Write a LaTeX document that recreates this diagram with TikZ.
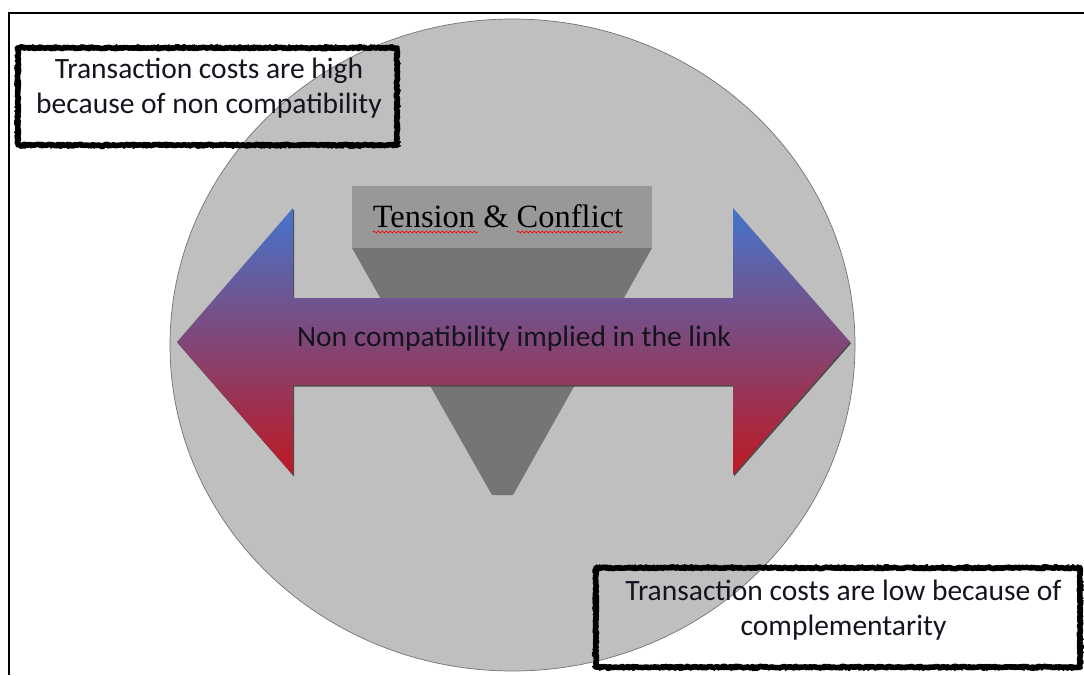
\documentclass[tikz,border=0pt]{standalone}
\usepackage{fontspec}
\setmainfont{Carlito}
\newfontfamily\timesfont{Liberation Serif}
\usetikzlibrary{decorations.pathmorphing,shapes.geometric}

\definecolor{circfill}{RGB}{191,191,191}
\definecolor{circedge}{RGB}{115,115,115}
\definecolor{funtop}{RGB}{152,152,152}
\definecolor{funbody}{RGB}{117,117,117}
\definecolor{arrblue}{RGB}{68,117,204}
\definecolor{arrpurple}{RGB}{128,86,156}
\definecolor{arrred}{RGB}{190,24,34}
\definecolor{txtdark}{RGB}{20,20,30}

\begin{document}
\begin{tikzpicture}[x=1pt,y=-1pt,
  roughbox/.style={draw=black, line width=5.5pt, inner sep=0pt, line join=round,
    decorate, decoration={random steps, segment length=1.5pt, amplitude=0.7pt}},
  roughline/.style={draw=black, line width=1.5pt, inner sep=0pt, line join=round,
    decorate, decoration={random steps, segment length=1.2pt, amplitude=1.8pt}},
  calibritext/.style={font=\fontsize{29.5}{35}\selectfont, align=center, inner sep=0pt, text=txtdark},
  squiggle/.style={draw=red, line width=0.7pt, decorate, decoration={snake, amplitude=0.9pt, segment length=4pt}}
]
\useasboundingbox (0,0) rectangle (1084,675);
\fill[white] (0,0) rectangle (1084,675);

% frame
\coordinate (fTR) at (1084,13);
\coordinate (fTL) at (9,13);
\coordinate (fBL) at (9,675);
\draw[line width=2.5pt] (fTR) -- (fTL) -- (fBL);

% big circle
\node[ellipse, fill=circfill, draw=circedge, line width=0.7pt,
      minimum width=685pt, minimum height=652pt, inner sep=0pt] (circ) at (512.5,345) {};

% funnel
\fill[funbody] (352,248) -- (652,248) -- (513,495) -- (492,495) -- cycle;
\node[fill=funtop, minimum width=300pt, minimum height=62pt, inner sep=0pt] (funtopbox) at (502,217) {};
\node[font=\timesfont\fontsize{32.5}{32.5}\selectfont, inner sep=0pt, text=black] (tension) at (498,216) {Tension \& Conflict};
\draw[squiggle] (373,232) -- (478,232);
\draw[squiggle] (517,232) -- (622,232);

% double arrow
\def\arrowpath{(177,342) -- (293,208) -- (293,298) -- (733,298) -- (733,208) -- (850,342) -- (733,475) -- (733,385) -- (293,385) -- (293,475) -- cycle}
\begin{scope}[shift={(1,1.5)}]
  \fill[black!70] \arrowpath;
\end{scope}
\shade[top color=arrblue, middle color=arrpurple, bottom color=arrred] \arrowpath;
\node[calibritext] (link) at (514,339) {Non compatibility implied in the link};

% text boxes (no fill: the circle shows through)
\pgfmathsetseed{7}
\node[roughbox, minimum width=379pt, minimum height=97pt] (box1) at (207.5,96.5) {};
\node[roughline, minimum width=382pt, minimum height=100pt] (box1b) at (207.5,96.5) {};
\node[calibritext] (t1) at (209,88) {Transaction costs are high\\because of non compatibility};

\node[roughbox, minimum width=484pt, minimum height=99pt] (box2) at (838,617.5) {};
\node[roughline, minimum width=487pt, minimum height=102pt] (box2b) at (838,617.5) {};
\node[calibritext] (t2) at (843.5,610) {Transaction costs are low because of\\complementarity};
\end{tikzpicture}
\end{document}
